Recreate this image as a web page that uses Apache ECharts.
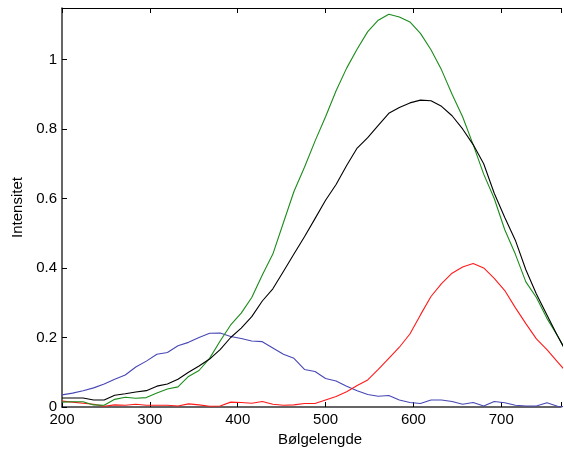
<!DOCTYPE html>
<html>
<head>
<meta charset="utf-8">
<script src="https://cdn.jsdelivr.net/npm/echarts@6/dist/echarts.min.js"></script>
<style>html,body{margin:0;padding:0;background:#fff}#c{width:564px;height:452px}</style>
</head>
<body>
<div id="c"></div>
<script>
const wavelengths = [200,212,224,236,248,260,272,284,296,308,320,332,344,356,368,380,392,404,416,428,440,452,464,476,488,500,512,524,536,548,560,572,584,596,608,620,632,644,656,668,680,692,704,716,728,740,752,764,776];
const blueValues = [0.035,0.040,0.047,0.055,0.066,0.080,0.092,0.115,0.132,0.152,0.157,0.176,0.186,0.200,0.212,0.213,0.203,0.197,0.190,0.188,0.170,0.152,0.140,0.108,0.102,0.082,0.075,0.060,0.047,0.036,0.031,0.033,0.020,0.013,0.010,0.020,0.020,0.016,0.008,0.013,0.003,0.016,0.012,0.005,0.003,0.003,0.012,0.002,0.000];
const blackValues = [0.026,0.026,0.026,0.020,0.020,0.034,0.038,0.043,0.047,0.060,0.066,0.080,0.100,0.118,0.138,0.165,0.200,0.227,0.260,0.305,0.340,0.390,0.440,0.490,0.542,0.595,0.640,0.695,0.745,0.775,0.810,0.845,0.862,0.875,0.883,0.881,0.865,0.838,0.800,0.755,0.700,0.615,0.545,0.480,0.395,0.325,0.265,0.205,0.150];
const greenValues = [0.014,0.015,0.015,0.006,0.005,0.022,0.028,0.025,0.027,0.040,0.052,0.058,0.088,0.105,0.140,0.190,0.236,0.270,0.315,0.380,0.440,0.530,0.620,0.690,0.765,0.835,0.910,0.975,1.030,1.080,1.113,1.130,1.122,1.108,1.075,1.028,0.970,0.900,0.835,0.755,0.670,0.600,0.510,0.440,0.360,0.315,0.255,0.205,0.150];
const redValues = [0.017,0.014,0.011,0.008,0.002,0.006,0.005,0.008,0.005,0.005,0.005,0.003,0.009,0.006,0.002,0.003,0.014,0.013,0.011,0.016,0.008,0.005,0.006,0.010,0.010,0.020,0.030,0.044,0.062,0.078,0.108,0.140,0.172,0.210,0.265,0.318,0.355,0.385,0.403,0.413,0.400,0.370,0.335,0.286,0.240,0.196,0.165,0.130,0.095];
const xTicks = [200,300,400,500,600,700];
const yTicks = [0,0.2,0.4,0.6,0.8,1];

function pairs(vals){ return wavelengths.map((w,i)=>[w, vals[i]]); }

const chart = echarts.init(document.getElementById('c'), null, {renderer:'canvas'});
const font = 'Liberation Sans, Arial, Helvetica, sans-serif';
const mkSeries = (name, vals, color) => ({
  name, type:'line', data: pairs(vals), showSymbol:false, symbol:'none',
  lineStyle:{color, width:1.1}, itemStyle:{color}, animation:false, clip:true
});
chart.setOption({
  animation:false,
  backgroundColor:'#fff',
  grid:{left:62, right:0, top:8, bottom:43, containLabel:false},
  xAxis:[{
    type:'value', min:200, max:768, interval:100, position:'bottom',
    name:'Bølgelengde', nameLocation:'middle', nameGap:25,
    nameTextStyle:{fontFamily:font, fontSize:15, color:'#000', padding:[0,0,0,17]},
    axisLine:{show:true, lineStyle:{color:'#333', width:1.5}},
    axisTick:{show:true, inside:true, length:5, lineStyle:{color:'#000'}},
    axisLabel:{fontFamily:font, fontSize:15, color:'#000', margin:5,
      formatter:v=> xTicks.includes(v) ? String(v) : ''},
    splitLine:{show:false}
  },{
    type:'value', min:200, max:768, interval:100, position:'top',
    axisLine:{show:true, onZero:false, lineStyle:{color:'#000', width:1}},
    axisTick:{show:true, inside:true, length:5, lineStyle:{color:'#000'}},
    axisLabel:{show:false}, splitLine:{show:false}
  }],
  yAxis:{
    type:'value', min:0, max:1.148, interval:0.2,
    name:'Intensitet', nameLocation:'middle', nameGap:37, nameRotate:90,
    nameTextStyle:{fontFamily:font, fontSize:15, color:'#000'},
    axisLine:{show:true, lineStyle:{color:'#333', width:1.5}},
    axisTick:{show:true, inside:true, length:5, lineStyle:{color:'#000'}},
    axisLabel:{fontFamily:font, fontSize:15, color:'#000', margin:5,
      formatter:v=>{ const r=Math.round(v*10)/10; return yTicks.some(t=>Math.abs(t-v)<1e-6) ? String(r) : ''; }},
    splitLine:{show:false}
  },
  series:[
    mkSeries('Blå', blueValues, '#4747b5'),
    mkSeries('Rød', redValues, '#ff1a1a'),
    mkSeries('Grønn', greenValues, '#1a8c1a'),
    mkSeries('Sort', blackValues, '#000000')
  ]
});
</script>
</body>
</html>
